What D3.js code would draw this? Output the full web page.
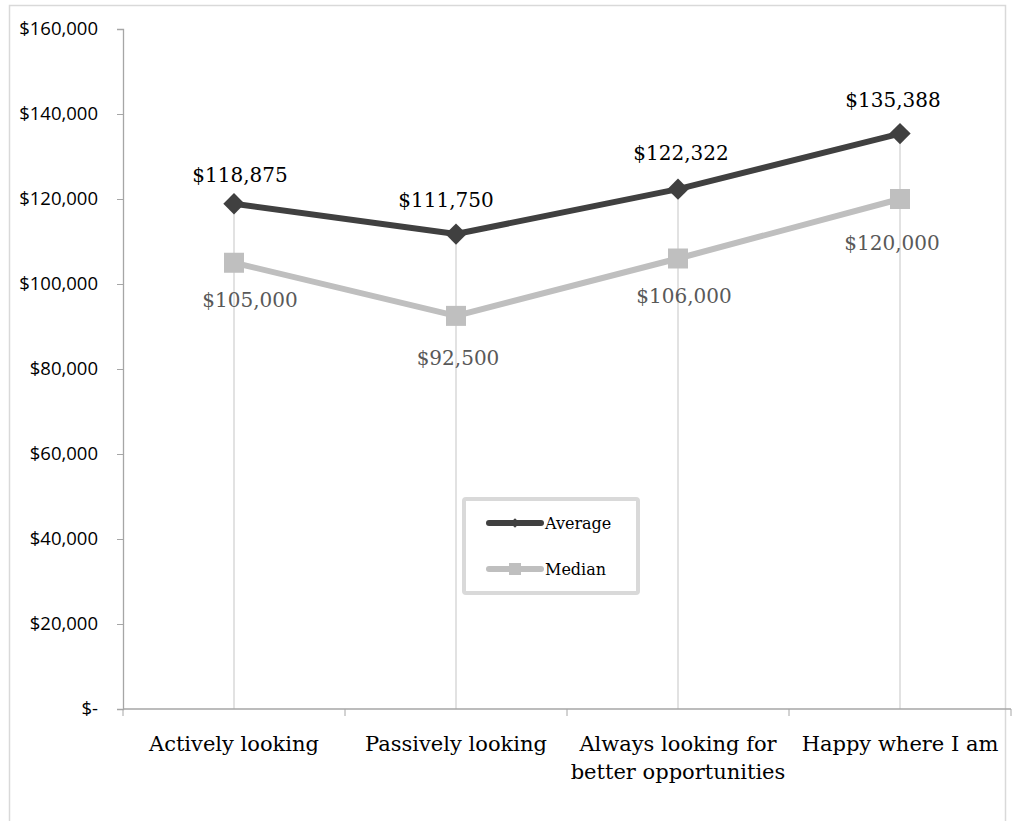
<!DOCTYPE html>
<html>
<head>
<meta charset="utf-8">
<script src="https://cdn.jsdelivr.net/npm/d3@7"></script>
<style>
  body { margin: 0; background: #fff; }
  svg { display: block; }
</style>
</head>
<body>
<div id="chart"></div>
<script>
const categories = [['Actively looking'], ['Passively looking'], ['Always looking for', 'better opportunities'], ['Happy where I am']]
const average = [118875, 111750, 122322, 135388]
const median = [105000, 92500, 106000, 120000]
const yTicks = [0, 20000, 40000, 60000, 80000, 100000, 120000, 140000, 160000]

const W = 1013, H = 821
const serif = '"DejaVu Serif", "Liberation Serif", serif'
const sans = '"Open Sans", Lato, sans-serif'
// hand-placed label nudges (px), as in the original
const avgNudge = [[6, -22], [-10, -27], [3, -29], [-7, -27]]
const medNudge = [[16, 44], [2, 49], [6, 44], [-8, 51]]

const svg = d3.select('#chart').append('svg').attr('width', W).attr('height', H)

// outer chart border
svg.append('rect').attr('x', 9.5).attr('y', 5.5).attr('width', 996).attr('height', 830)
  .attr('fill', 'none').attr('stroke', '#d9d9d9').attr('stroke-width', 1.5)

const x = d3.scaleBand().domain(d3.range(categories.length)).range([123, 1011])
const y = d3.scaleLinear().domain([0, 160000]).range([709, 29])
const cx = i => x(i) + x.bandwidth() / 2

// drop lines from the higher point to the axis
categories.forEach((c, i) => {
  svg.append('line').attr('x1', cx(i)).attr('x2', cx(i))
    .attr('y1', y(Math.max(average[i], median[i]))).attr('y2', y(0))
    .attr('stroke', '#d9d9d9').attr('stroke-width', 1.5)
})

// y axis
const yAxis = svg.append('g').attr('transform', 'translate(123,0)')
  .call(d3.axisLeft(y).tickValues(yTicks).tickSize(6).tickPadding(19)
    .tickFormat(v => v === 0 ? '$-' : '$' + d3.format(',')(v)))
yAxis.select('.domain').attr('stroke', '#a6a6a6').attr('stroke-width', 1.3)
yAxis.selectAll('.tick line').attr('stroke', '#a6a6a6')
yAxis.selectAll('.tick text').attr('font-family', sans).attr('font-size', 18.5).attr('fill', '#000')

// x axis
const xAxis = svg.append('g').attr('transform', 'translate(0,709)')
xAxis.append('line').attr('x1', 123).attr('x2', 1011).attr('stroke', '#a6a6a6').attr('stroke-width', 1.3)
d3.range(categories.length + 1).forEach(i => {
  const tx = 123 + i * x.bandwidth()
  xAxis.append('line').attr('x1', tx).attr('x2', tx).attr('y1', 0).attr('y2', 7).attr('stroke', '#a6a6a6')
})
categories.forEach((lines, i) => {
  const t = xAxis.append('text').attr('text-anchor', 'middle')
    .attr('font-family', serif).attr('font-size', 21).attr('fill', '#000')
  lines.forEach((l, j) => t.append('tspan').attr('x', cx(i)).attr('y', 42 + j * 28).text(l))
})

const line = d3.line().x((d, i) => cx(i)).y(d => y(d))
const fmt = v => '$' + d3.format(',')(v)

// median series
svg.append('path').datum(median).attr('d', line).attr('fill', 'none')
  .attr('stroke', '#bfbfbf').attr('stroke-width', 6).attr('stroke-linejoin', 'round')
svg.selectAll('.med').data(median).join('rect')
  .attr('x', (d, i) => cx(i) - 10).attr('y', d => y(d) - 10)
  .attr('width', 20).attr('height', 20).attr('fill', '#bfbfbf')
svg.selectAll('.medLabel').data(median).join('text')
  .attr('x', (d, i) => cx(i) + medNudge[i][0]).attr('y', (d, i) => y(d) + medNudge[i][1])
  .attr('text-anchor', 'middle').attr('font-family', serif).attr('font-size', 20)
  .attr('fill', '#595959').text(fmt)

// average series
svg.append('path').datum(average).attr('d', line).attr('fill', 'none')
  .attr('stroke', '#404040').attr('stroke-width', 6).attr('stroke-linejoin', 'round')
const diamond = d3.symbol().type(d3.symbolDiamond2).size(290)
svg.selectAll('.avg').data(average).join('path')
  .attr('d', diamond).attr('transform', (d, i) => `translate(${cx(i)},${y(d)})`)
  .attr('fill', '#404040')
svg.selectAll('.avgLabel').data(average).join('text')
  .attr('x', (d, i) => cx(i) + avgNudge[i][0]).attr('y', (d, i) => y(d) + avgNudge[i][1])
  .attr('text-anchor', 'middle').attr('font-family', serif).attr('font-size', 20)
  .attr('fill', '#000').text(fmt)

// legend
const lg = svg.append('g')
lg.append('rect').attr('x', 464).attr('y', 499).attr('width', 174).attr('height', 94)
  .attr('fill', '#fff').attr('stroke', '#d9d9d9').attr('stroke-width', 4).attr('rx', 2)
const legendItems = [
  { name: 'Average', color: '#404040', marker: 'diamond', y: 523 },
  { name: 'Median', color: '#bfbfbf', marker: 'square', y: 569 }
]
legendItems.forEach(it => {
  lg.append('line').attr('x1', 489).attr('x2', 541).attr('y1', it.y).attr('y2', it.y)
    .attr('stroke', it.color).attr('stroke-width', 6).attr('stroke-linecap', 'round')
  if (it.marker === 'diamond') {
    lg.append('path').attr('d', d3.symbol().type(d3.symbolDiamond2).size(60))
      .attr('transform', `translate(515,${it.y})`).attr('fill', it.color)
  } else {
    lg.append('rect').attr('x', 509).attr('y', it.y - 6).attr('width', 12).attr('height', 12).attr('fill', it.color)
  }
  lg.append('text').attr('x', 545).attr('y', it.y + 5.5)
    .attr('font-family', serif).attr('font-size', 16).attr('fill', '#000').text(it.name)
})
</script>
</body>
</html>
